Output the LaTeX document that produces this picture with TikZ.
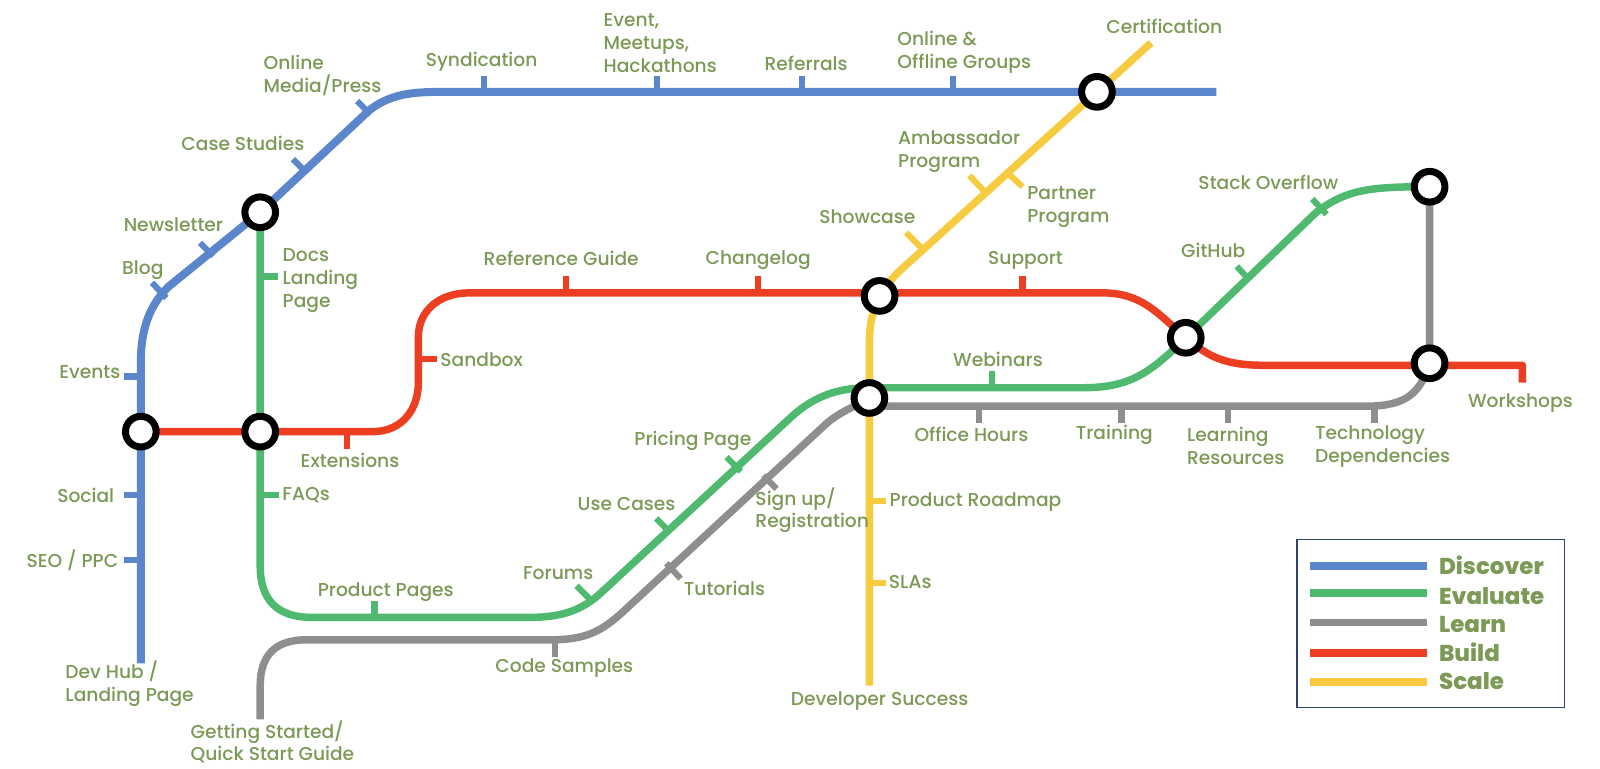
\documentclass[tikz,border=0pt]{standalone}
\usepackage{fontspec}
\setmainfont{Poppins Medium}[BoldFont={Poppins ExtraBold}]
\definecolor{cblue}{HTML}{5B86CB}
\definecolor{cgreen}{HTML}{4FB96F}
\definecolor{cgray}{HTML}{8E8E8E}
\definecolor{cred}{HTML}{EC3F22}
\definecolor{cyellow}{HTML}{F7CB3F}
\definecolor{ctext}{HTML}{7A9A56}
\definecolor{cbox}{HTML}{2F4570}
\tikzset{
  ln/.style={line width=5.6pt,line cap=butt,line join=round},
  tk/.style={line width=4.6pt,line cap=butt},
  stn/.style={circle,draw=black,fill=white,line width=5.25pt,minimum size=23pt,inner sep=0pt},
  lbl/.style={text=ctext,font=\fontsize{14}{17.2}\selectfont,align=left,inner sep=0pt},
  leg/.style={text=ctext,font=\fontsize{17.2}{20}\bfseries\selectfont,anchor=base west,inner sep=0pt},
  legln/.style={line width=5.8pt},
}
\begin{document}
\begin{tikzpicture}[x=0.7653pt,y=-0.7653pt]
\useasboundingbox (0,0) rectangle (1568,753.6);
% station positions
\coordinate (a) at (138,423);
\coordinate (b) at (255,423);
\coordinate (c) at (255,208);
\coordinate (d) at (1075,90);
\coordinate (e) at (862,290);
\coordinate (f) at (852,390);
\coordinate (g) at (1162,331);
\coordinate (h) at (1401,183);
\coordinate (i) at (1401,356);
% free ends
\coordinate (blueEnd) at (1192,90);
\coordinate (blueStart) at (138,650);
\coordinate (grayStart) at (255,705);
\coordinate (redEnd) at (1492,375);
\coordinate (yellowStart) at (852,672);
\coordinate (yellowEnd) at (1128,42);
% gray
\draw[ln,cgray] (grayStart) -- (255,672) .. controls (255,642) and (270,627) .. (300,627) -- (540,627)
  .. controls (575,627) and (590,618) .. (610,600) -- (810,415) .. controls (825,402) and (840,398) .. (f)
  -- (855,398) -- (1340,398) .. controls (1378,398) and (1392,385) .. (i) -- (h);
% blue
\draw[ln,line width=6pt,cblue] (blueStart) -- (138,355) .. controls (138,320) and (148,298) .. (165,281) -- (c)
  -- (362,108) .. controls (385,90) and (410,90) .. (440,90) -- (blueEnd);
% green
\draw[ln,cgreen] (c) -- (255,555) .. controls (255,588) and (272,605) .. (305,605) -- (520,605)
  .. controls (552,605) and (572,597) .. (590,580) -- (775,409) .. controls (800,386) and (825,380) .. (852,380)
  -- (1060,380) .. controls (1105,380) and (1125,368) .. (g) -- (1290,208)
  .. controls (1320,185) and (1345,183) .. (h);
% red
\draw[ln,cred] (a) -- (365,423) .. controls (395,423) and (410,400) .. (410,375) -- (410,330)
  .. controls (410,305) and (430,287) .. (460,287) -- (1080,287)
  .. controls (1120,287) and (1135,308) .. (g) .. controls (1185,350) and (1200,358) .. (1240,358)
  -- (1492,358) -- (redEnd);
% yellow
\draw[ln,cyellow] (yellowStart) -- (f) -- (852,335) .. controls (852,305) and (862,285) .. (880,267) -- (yellowEnd);
% ticks
\foreach \p/\q in {122/369,122/485,122/549}{\draw[tk,cblue] (\p,\q) -- (138,\q);}
\draw[tk,cblue] (149,277) -- (163,292);
\draw[tk,cblue] (196,238) -- (209,251);
\draw[tk,cblue] (287,156) -- (300,169);
\draw[tk,cblue] (350,99) -- (363,112);
\foreach \p in {474,644,786,934}{\draw[tk,cblue] (\p,74) -- (\p,90);}
\draw[tk,cgreen] (255,271) -- (272,271);
\draw[tk,cgreen] (255,485) -- (273,485);
\draw[tk,cgreen] (367,589) -- (367,605);
\draw[tk,cgreen] (565,574) -- (579,588);
\draw[tk,cgreen] (643,508) -- (657,522);
\draw[tk,cgreen] (712,448) -- (726,462);
\draw[tk,cgreen] (972,364) -- (972,380);
\draw[tk,cgreen] (1212,261) -- (1225,275);
\draw[tk,cgreen] (1286,195) -- (1300,210);
\draw[tk,cgray] (544,627) -- (544,644);
\draw[tk,cgray] (653,552) -- (667,567);
\draw[tk,cgray] (748,466) -- (761,479);
\foreach \p in {959,1099,1203,1347}{\draw[tk,cgray] (\p,398) -- (\p,415);}
\draw[tk,cred] (340,423) -- (340,440);
\draw[tk,cred] (410,352) -- (428,352);
\foreach \p in {555,743,1002}{\draw[tk,cred] (\p,270) -- (\p,287);}
\draw[tk,cyellow] (852,491) -- (868,491);
\draw[tk,cyellow] (852,571) -- (868,571);
\draw[tk,cyellow] (888,228) -- (906,246);
\draw[tk,cyellow] (950,172) -- (966,189);
\draw[tk,cyellow] (986,168) -- (1002,183);
% stations
\foreach \n in {a,b,c,d,e,f,g,h,i}{\node[stn] (s\n) at (\n) {};}
% labels
\node[lbl] (l1) at (1141,26) {Certification};
\node[lbl] (l2) at (945,51) {Online \&\\Offline Groups};
\node[lbl] (l3) at (790,62) {Referrals};
\node[lbl] (l4) at (647,42) {Event,\\Meetups,\\Hackathons};
\node[lbl] (l5) at (472,60.5) {Syndication};
\node[lbl] (l6) at (316,73.5) {Online\\Media/Press};
\node[lbl] (l7) at (238,141) {Case Studies};
\node[lbl] (l8) at (170,220) {Newsletter};
\node[lbl] (l9) at (140,264.5) {Blog};
\node[lbl] (l10) at (88,365) {Events};
\node[lbl] (l11) at (84,485) {Social};
\node[lbl] (l12) at (71,549) {SEO / PPC};
\node[lbl] (l13) at (127,670) {Dev Hub /\\Landing Page};
\node[lbl] (l14) at (314,275) {Docs\\Landing\\Page};
\node[lbl] (l15) at (300,485) {FAQs};
\node[lbl] (l16) at (343,451) {Extensions};
\node[lbl] (l17) at (472,352) {Sandbox};
\node[lbl] (l18) at (550,253) {Reference Guide};
\node[lbl] (l19) at (743,255) {Changelog};
\node[lbl] (l20) at (850,212) {Showcase};
\node[lbl] (l21) at (940,149) {Ambassador\\Program};
\node[lbl] (l22) at (1047,203) {Partner\\Program};
\node[lbl] (l23) at (1005,255.5) {Support};
\node[lbl] (l24) at (1189,245) {GitHub};
\node[lbl] (l25) at (1243,179) {Stack Overflow};
\node[lbl] (l26) at (978,352) {Webinars};
\node[lbl] (l27) at (952,426) {Office Hours};
\node[lbl] (l28) at (1092,426) {Training};
\node[lbl] (l29) at (1211,437) {Learning\\Resources};
\node[lbl] (l30) at (1355,438) {Technology\\Dependencies};
\node[lbl] (l31) at (1490,394.5) {Workshops};
\node[lbl] (l32) at (679,432.5) {Pricing Page};
\node[lbl] (l33) at (614,494) {Use Cases};
\node[lbl] (l34) at (547,562) {Forums};
\node[lbl] (l35) at (796,500) {Sign up/\\Registration};
\node[lbl] (l36) at (956,492) {Product Roadmap};
\node[lbl] (l37) at (892,570) {SLAs};
\node[lbl] (l38) at (710,577) {Tutorials};
\node[lbl] (l39) at (378,580) {Product Pages};
\node[lbl] (l40) at (553,655) {Code Samples};
\node[lbl] (l41) at (862,687) {Developer Success};
\node[lbl] (l42) at (267,727) {Getting Started/\\Quick Start Guide};
% legend
\node[draw=cbox,line width=0.9pt,fill=none,inner sep=0pt,minimum width=200.5pt,minimum height=125.5pt] (legbox) at (1402,611) {};
\foreach \y/\ty/\c/\t in {555/563/cblue/Discover,581/592/cgreen/Evaluate,610/620/cgray/Learn,640/648/cred/Build,668/676/cyellow/Scale}{
  \draw[legln,\c] (1284,\y) -- (1398,\y);
  \node[leg] at (1410,\ty) {\t};
}
\end{tikzpicture}
\end{document}
